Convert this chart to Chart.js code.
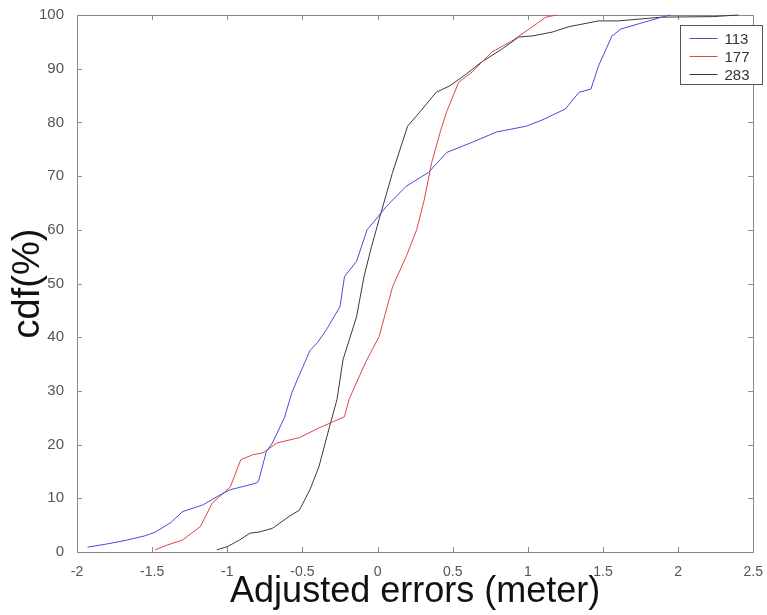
<!DOCTYPE html>
<html>
<head>
<meta charset="utf-8">
<script src="https://cdn.jsdelivr.net/npm/chart.js@4"></script>
<style>
  html, body { margin: 0; padding: 0; background: #fff; }
  canvas { display: block; }
</style>
</head>
<body>
<canvas id="c" width="767" height="615"></canvas>
<script>
// ---- data ----
const seriesLabels = ["113", "177", "283"];

const err113 = [-1.93, -1.80, -1.67, -1.55, -1.48, -1.38, -1.32, -1.30, -1.16, -1.05, -0.98, -0.88, -0.80, -0.79, -0.74, -0.70, -0.62, -0.57, -0.52, -0.45, -0.40, -0.34, -0.25, -0.22, -0.14, -0.07, -0.01, 0.06, 0.19, 0.34, 0.46, 0.63, 0.79, 0.99, 1.10, 1.25, 1.34, 1.42, 1.47, 1.56, 1.62, 1.78, 1.89, 1.95];
const cdf113 = [0.9, 1.5, 2.2, 3.0, 3.7, 5.4, 6.9, 7.5, 8.8, 10.6, 11.6, 12.3, 12.9, 13.4, 18.7, 20.3, 25.0, 29.7, 33.0, 37.5, 39.0, 41.4, 45.7, 51.3, 54.1, 60.0, 62.0, 64.4, 68.1, 70.7, 74.4, 76.3, 78.2, 79.3, 80.5, 82.5, 85.6, 86.2, 90.5, 96.1, 97.4, 98.7, 99.6, 100];

const err177 = [-1.48, -1.40, -1.30, -1.18, -1.10, -0.98, -0.91, -0.83, -0.76, -0.67, -0.52, -0.39, -0.30, -0.22, -0.19, -0.08, 0.01, 0.10, 0.19, 0.26, 0.31, 0.36, 0.42, 0.46, 0.54, 0.63, 0.76, 0.89, 1.03, 1.12, 1.19];
const cdf177 = [0.4, 1.3, 2.2, 4.7, 9.1, 12.1, 17.2, 18.1, 18.5, 20.3, 21.3, 23.1, 24.2, 25.2, 28.4, 35.3, 40.1, 49.4, 55.0, 60.0, 65.5, 72.5, 78.5, 82.0, 87.5, 89.4, 93.1, 95.1, 97.8, 99.6, 100];

const err283 = [-1.07, -1.00, -0.92, -0.85, -0.79, -0.70, -0.59, -0.52, -0.45, -0.39, -0.32, -0.27, -0.23, -0.14, -0.09, -0.04, 0.01, 0.10, 0.20, 0.28, 0.39, 0.48, 0.59, 0.69, 0.83, 0.94, 1.03, 1.16, 1.27, 1.47, 1.60, 1.89, 2.23, 2.40];
const cdf283 = [0.4, 1.0, 2.2, 3.5, 3.7, 4.4, 6.6, 7.8, 11.6, 15.9, 23.3, 28.4, 35.8, 43.8, 51.3, 56.9, 61.9, 70.7, 79.3, 81.9, 85.6, 86.8, 89.0, 91.2, 93.7, 95.9, 96.1, 96.8, 97.8, 98.9, 98.9, 99.6, 99.7, 100];

const xTitle = "Adjusted errors (meter)";
const yTitle = "cdf(%)";
const xMin = -2, xMax = 2.5, xStep = 0.5;
const yMin = 0, yMax = 100, yStep = 10;

// ---- build library structures ----
function pts(xs, ys) { return xs.map((x, i) => ({ x: x, y: ys[i] })); }
const colors = ["#4b4bd6", "#d84848", "#3a3a3a"];
const allX = [err113, err177, err283];
const allY = [cdf113, cdf177, cdf283];

const datasets = seriesLabels.map((lab, i) => ({
  label: lab,
  data: pts(allX[i], allY[i]),
  borderColor: colors[i],
  backgroundColor: colors[i],
  borderWidth: 1,
  pointRadius: 0,
  showLine: true,
  fill: false,
  tension: 0,
  clip: 3
}));

const FONT = "'Liberation Sans', Arial, sans-serif";

const boxPlugin = {
  id: 'boxAndTicks',
  beforeDatasetsDraw(chart) {
    const { ctx, chartArea: a, scales } = chart;
    ctx.save();
    ctx.strokeStyle = '#8a8a8a';
    ctx.lineWidth = 1;
    ctx.strokeRect(Math.round(a.left) + 0.5, Math.round(a.top) + 0.5,
                   Math.round(a.right - a.left), Math.round(a.bottom - a.top));
    const tl = 5;
    ctx.beginPath();
    scales.x.ticks.forEach(t => {
      const px = Math.round(scales.x.getPixelForValue(t.value)) + 0.5;
      ctx.moveTo(px, a.bottom); ctx.lineTo(px, a.bottom - tl);
      ctx.moveTo(px, a.top); ctx.lineTo(px, a.top + tl);
    });
    scales.y.ticks.forEach(t => {
      const py = Math.round(scales.y.getPixelForValue(t.value)) + 0.5;
      ctx.moveTo(a.left, py); ctx.lineTo(a.left + tl, py);
      ctx.moveTo(a.right, py); ctx.lineTo(a.right - tl, py);
    });
    ctx.stroke();
    ctx.restore();
  },
  afterDraw(chart) {
    const { ctx, chartArea: a } = chart;
    const w = 82, rowH = 18;
    const left = Math.round(a.right - 73) + 0.5;
    const top = Math.round(a.top + 10) + 0.5;
    const h = 59;
    ctx.save();
    ctx.fillStyle = '#ffffff';
    ctx.fillRect(left, top, w, h);
    ctx.strokeStyle = '#555';
    ctx.lineWidth = 1;
    ctx.strokeRect(left, top, w, h);
    ctx.font = "15px " + FONT;
    ctx.textBaseline = 'middle';
    ctx.textAlign = 'left';
    chart.data.datasets.forEach((ds, i) => {
      const cy = Math.round(top + 12 + i * rowH) + 0.5;
      ctx.strokeStyle = ds.borderColor;
      ctx.beginPath();
      ctx.moveTo(left + 9, cy);
      ctx.lineTo(left + 37, cy);
      ctx.stroke();
      ctx.fillStyle = '#333';
      ctx.fillText(ds.label, left + 44, cy + 1);
    });
    ctx.restore();
  }
};

new Chart(document.getElementById('c'), {
  type: 'scatter',
  data: { datasets },
  options: {
    responsive: false,
    animation: false,
    devicePixelRatio: 1,
    layout: { padding: { top: 15, right: 12, left: 0, bottom: 0 } },
    plugins: { legend: { display: false }, tooltip: { enabled: false } },
    scales: {
      x: {
        type: 'linear',
        min: xMin, max: xMax,
        grid: { display: false },
        border: { display: false },
        ticks: { stepSize: xStep, color: '#555', padding: 4, maxRotation: 0,
                 font: { family: FONT, size: 14 },
                 callback: v => String(Math.round(v * 10) / 10) },
        title: { display: true, text: xTitle, color: '#111',
                 font: { family: FONT, size: 36, lineHeight: 1 },
                 padding: { top: 0, bottom: 5 } },
        afterFit(s) { s.height = 63; }
      },
      y: {
        type: 'linear',
        min: yMin, max: yMax,
        grid: { display: false },
        border: { display: false },
        ticks: { stepSize: yStep, color: '#555', padding: 5,
                 font: { family: FONT, size: 15 },
                 callback: v => String(v) },
        title: { display: true, text: yTitle, color: '#111',
                 font: { family: FONT, size: 38, lineHeight: 1 },
                 padding: { top: 10, bottom: 0 } },
        afterFit(s) { s.width = 77; }
      }
    }
  },
  plugins: [boxPlugin]
});
</script>
</body>
</html>
